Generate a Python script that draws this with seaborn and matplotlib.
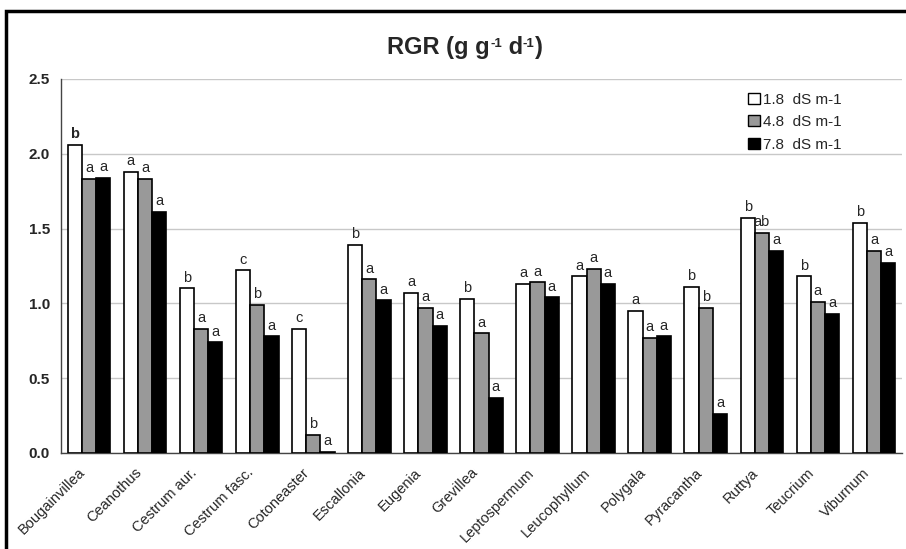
import matplotlib
matplotlib.use("Agg")
import matplotlib.pyplot as plt
import matplotlib.transforms as mtransforms
import seaborn as sns
import pandas as pd
import numpy as np
from matplotlib.patches import Rectangle

species = ["Bougainvillea", "Ceanothus", "Cestrum aur.", "Cestrum fasc.", "Cotoneaster",
           "Escallonia", "Eugenia", "Grevillea", "Leptospermum", "Leucophyllum",
           "Polygala", "Pyracantha", "Ruttya", "Teucrium", "Viburnum"]
levels = ["1.8  dS m-1", "4.8  dS m-1", "7.8  dS m-1"]
rgr_18 = [2.06, 1.88, 1.10, 1.22, 0.83, 1.39, 1.07, 1.03, 1.13, 1.18, 0.95, 1.11, 1.57, 1.18, 1.54]
rgr_48 = [1.83, 1.83, 0.83, 0.99, 0.12, 1.16, 0.97, 0.80, 1.14, 1.23, 0.77, 0.97, 1.47, 1.01, 1.35]
rgr_78 = [1.84, 1.61, 0.74, 0.78, 0.01, 1.02, 0.85, 0.37, 1.04, 1.13, 0.78, 0.26, 1.35, 0.93, 1.27]
let_18 = ["b", "a", "b", "c", "c", "b", "a", "b", "a", "a", "a", "b", "b", "b", "b"]
let_48 = ["a", "a", "a", "b", "b", "a", "a", "a", "a", "a", "a", "b", "ab", "a", "a"]
let_78 = ["a", "a", "a", "a", "a", "a", "a", "a", "a", "a", "a", "a", "a", "a", "a"]
yticks = [0.0, 0.5, 1.0, 1.5, 2.0, 2.5]

df = pd.DataFrame({
    "species": species * 3,
    "level": [levels[0]] * 15 + [levels[1]] * 15 + [levels[2]] * 15,
    "rgr": rgr_18 + rgr_48 + rgr_78,
})

sns.set_style("white")
plt.rcParams["font.family"] = ["Liberation Sans", "DejaVu Sans"]

fig = plt.figure(figsize=(9.06, 5.49), dpi=100)
ax = fig.add_axes([61 / 906, 1 - 453 / 549, (902 - 61) / 906, (453 - 79) / 549])

colors = ["#ffffff", "#999999", "#000000"]
sns.barplot(data=df, x="species", y="rgr", hue="level", hue_order=levels, order=species,
            palette=colors, edgecolor="black", linewidth=1.2, width=0.76,
            errorbar=None, ax=ax, legend=False, zorder=3)

ax.set_ylim(0, 2.5)
ax.set_xlim(-0.5, 14.5)
ax.set_yticks(yticks)
ax.set_yticklabels([f"{v:.1f}" for v in yticks], fontsize=11, fontweight="bold")
ax.yaxis.grid(True, color="#c8c8c8", linewidth=1, zorder=0)
ax.set_axisbelow(True)
ax.set_xlabel("")
ax.set_ylabel("")

# x ticks: labels at centers, tick marks at category boundaries
ax.set_xticks(np.arange(len(species)))
ax.set_xticklabels(species, rotation=45, ha="right", rotation_mode="anchor", fontsize=10.5)
ax.tick_params(axis="x", length=0, pad=9)
offset = mtransforms.ScaledTranslation(-11 / 100, 0, fig.dpi_scale_trans)
for lbl in ax.get_xticklabels():
    lbl.set_transform(lbl.get_transform() + offset)
ax.set_xticks(np.arange(-0.5, len(species)), minor=True)
ax.tick_params(axis="x", which="minor", length=5, direction="out", width=1, color="#555555")
ax.tick_params(axis="y", length=5, direction="out", width=1, color="#555555", pad=3)

for s in ["top", "right"]:
    ax.spines[s].set_visible(False)
for s in ["left", "bottom"]:
    ax.spines[s].set_color("#444444")
    ax.spines[s].set_linewidth(1)

# letters
all_letters = [let_18, let_48, let_78]
for ci, cont in enumerate(ax.containers):
    for bi, patch in enumerate(cont.patches):
        x = patch.get_x() + patch.get_width() / 2
        h = patch.get_height()
        weight = "bold" if (ci == 0 and bi == 0) else "normal"
        ax.text(x, h + 0.025, all_letters[ci][bi], ha="center", va="bottom",
                fontsize=10.5, fontweight=weight, zorder=5)

# legend
handles = [Rectangle((0, 0), 1, 1, facecolor=c, edgecolor="black", linewidth=1) for c in colors]
leg = ax.legend(handles, levels, loc="upper right", bbox_to_anchor=(0.945, 1.0),
                frameon=False, fontsize=11, handlelength=0.75, handleheight=0.75,
                handletextpad=0.25, labelspacing=0.55)

# title built from pieces (small superscripts)
fig.canvas.draw()
renderer = fig.canvas.get_renderer()
pieces = [("RGR (g g", 17, 0), ("-1", 9.5, 7), (" d", 17, 0), ("-1", 9.5, 7), (")", 17, 0)]
base_y = 549 - 54
objs = []
widths = []
for txt, fs, dy in pieces:
    t = fig.text(0, 0, txt, fontsize=fs, fontweight="bold", transform=None,
                 ha="left", va="baseline")
    bb = t.get_window_extent(renderer)
    objs.append((t, dy))
    widths.append(bb.width)
total = sum(widths)
x0 = 465 - total / 2
for (t, dy), w in zip(objs, widths):
    t.set_position((x0, base_y + dy))
    x0 += w

# outer frame
fig.patches.append(Rectangle((6 / 906, -0.1), 1.2, 1 - 11 / 549 + 0.1, transform=fig.transFigure,
                             fill=False, edgecolor="black", linewidth=2.5))

fig.savefig("out.png", dpi=100)
